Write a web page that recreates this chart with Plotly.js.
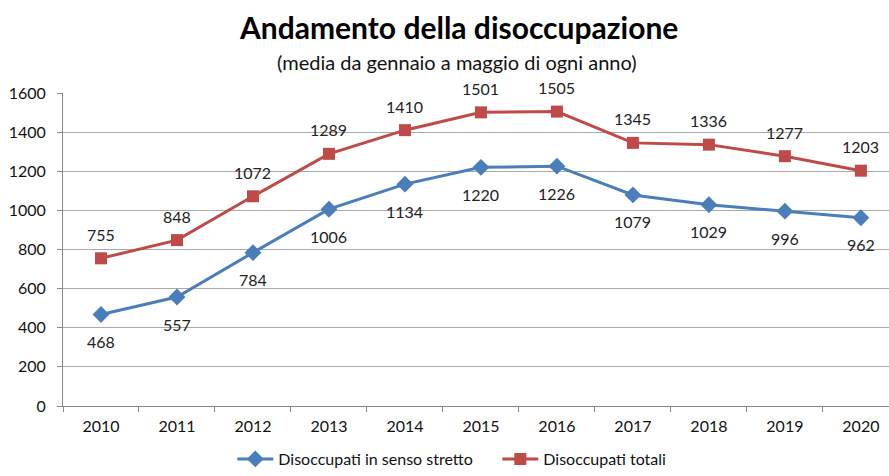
<!DOCTYPE html>
<html><head><meta charset="utf-8">
<script src="https://cdn.plot.ly/plotly-3.0.1.min.js"></script>
<style>html,body{margin:0;padding:0;background:#fff}#c{width:889px;height:476px}</style>
</head><body><div id="c"></div>
<script>
const years = ['2010','2011','2012','2013','2014','2015','2016','2017','2018','2019','2020'];
const strettoValues = [468, 557, 784, 1006, 1134, 1220, 1226, 1079, 1029, 996, 962];
const totaliValues = [755, 848, 1072, 1289, 1410, 1501, 1505, 1345, 1336, 1277, 1203];
const yTicks = [0, 200, 400, 600, 800, 1000, 1200, 1400, 1600];

const fontFam = 'Lato, "Open Sans", sans-serif';
const traces = [
  {x: years, y: strettoValues, name: 'Disoccupati in senso stretto', type: 'scatter', mode: 'lines+markers',
   line: {color: '#4A7EBB', width: 3}, marker: {symbol: 'diamond', size: 13, color: '#4A7EBB'}, cliponaxis: false},
  {x: years, y: totaliValues, name: 'Disoccupati totali', type: 'scatter', mode: 'lines+markers',
   line: {color: '#BE4B48', width: 3}, marker: {symbol: 'square', size: 12, color: '#BE4B48'}, cliponaxis: false}
];
const labelFont = {size: 16, color: '#222', family: fontFam};
const labels = [];
years.forEach((yr, i) => {
  labels.push({x: i, y: strettoValues[i], xref: 'x', yref: 'y', text: String(strettoValues[i]), showarrow: false, yshift: -27, font: labelFont});
  labels.push({x: i, y: totaliValues[i], xref: 'x', yref: 'y', text: String(totaliValues[i]), showarrow: false, yshift: 24, font: labelFont});
});
const layout = {
  width: 889, height: 476,
  margin: {l: 63, r: 0, t: 93, b: 70, autoexpand: false},
  paper_bgcolor: '#fff', plot_bgcolor: '#fff',
  font: {family: fontFam, size: 16, color: '#111'},
  showlegend: true,
  legend: {orientation: 'h', x: 0.205, xanchor: 'left', y: -0.2236, yanchor: 'bottom', font: {size: 16, color: '#111'}, itemwidth: 36, tracegroupgap: 0, entrywidth: 214},
  xaxis: {type: 'category', range: [-0.5, 10.37], tickson: 'boundaries', ticks: 'outside', ticklen: 5, tickcolor: '#888',
    showline: true, linecolor: '#888', linewidth: 1, showgrid: false, zeroline: false, fixedrange: true,
    tickfont: {size: 16, color: '#111'}, ticklabelstandoff: 6},
  yaxis: {range: [0, 1600], tickvals: yTicks, ticks: 'outside', ticklen: 5, tickcolor: '#888',
    showline: true, linecolor: '#888', linewidth: 1, showgrid: true, gridcolor: '#AAAAAA', gridwidth: 1, zeroline: false,
    tickfont: {size: 16, color: '#111'}, ticklabelstandoff: 8},
  annotations: [
    {text: '<b>Andamento della disoccupazione</b>', xref: 'paper', yref: 'paper', x: 0.479, y: 1, yshift: 66, xanchor: 'center', yanchor: 'middle', showarrow: false, font: {size: 30, color: '#000', family: fontFam}},
    {text: '(media da gennaio a maggio di ogni anno)', xref: 'paper', yref: 'paper', x: 0.4765, y: 1, yshift: 31, xanchor: 'center', yanchor: 'middle', showarrow: false, font: {size: 20, color: '#111', family: fontFam}}
  ].concat(labels)
};
Plotly.newPlot('c', traces, layout, {staticPlot: true, displayModeBar: false});
</script></body></html>
